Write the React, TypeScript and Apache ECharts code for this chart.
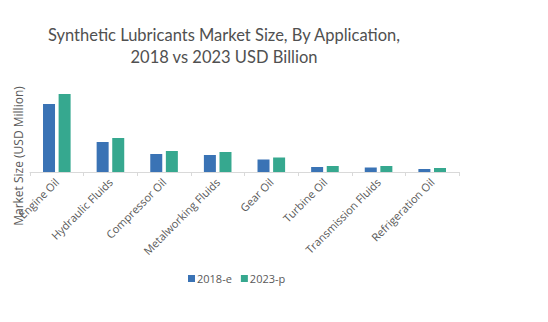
import React, { useEffect, useRef } from "react";
import * as echarts from "echarts";

const categories = [
  "Engine Oil",
  "Hydraulic Fluids",
  "Compressor Oil",
  "Metalworking Fluids",
  "Gear Oil",
  "Turbine Oil",
  "Transmission Fluids",
  "Refrigeration Oil",
];
const series2018 = [68, 30, 18, 17, 12.5, 5, 4.5, 3];
const series2023 = [78, 34, 21, 20, 14.5, 6, 6, 4];
const seriesNames = ["2018-e", "2023-p"];
const titleText = "Synthetic Lubricants Market Size, By Application,\n2018 vs 2023 USD Billion";
const yAxisName = "Market Size (USD Million)";

export default function App() {
  const ref = useRef<HTMLDivElement>(null);
  useEffect(() => {
    if (!ref.current) return;
    const chart = echarts.init(ref.current, null, { renderer: "svg" });
    chart.setOption({
      animation: false,
      backgroundColor: "#ffffff",
      legend: {
        data: seriesNames,
        top: 260,
        left: 175,
        itemWidth: 7,
        itemHeight: 7,
        itemGap: 9,
        icon: "rect",
        textStyle: { fontFamily: "Open Sans", fontSize: 11, color: "#595959", padding: [0, 0, 0, -3] },
      },
      graphic: [
        {
          type: "text",
          x: 216,
          y: 16,
          style: {
            text: titleText,
            fontFamily: "Lato",
            fontSize: 16.5,
            lineHeight: 22,
            fill: "#505050",
            align: "center",
            verticalAlign: "top",
          },
        },
        {
          type: "text",
          x: 4,
          y: 148,
          rotation: Math.PI / 2,
          style: {
            text: yAxisName,
            fontFamily: "Open Sans",
            fontSize: 12,
            fill: "#595959",
            align: "center",
            verticalAlign: "top",
          },
        },
      ],
      grid: { left: 22, right: 81, top: 72, bottom: 142, containLabel: false },
      xAxis: {
        type: "category",
        data: categories,
        axisLine: { lineStyle: { color: "#d9d9d9" } },
        axisTick: { show: true, length: 4, lineStyle: { color: "#d9d9d9" } },
        axisLabel: {
          rotate: 45,
          interval: 0,
          fontFamily: "Open Sans",
          fontSize: 11,
          color: "#595959",
          margin: 8,
        },
      },
      yAxis: {
        type: "value",
        min: 0,
        max: 92,
        show: false,
        splitLine: { show: false },
      },
      series: [
        {
          name: seriesNames[0],
          type: "bar",
          data: series2018,
          barWidth: 12,
          barGap: "30%",
          itemStyle: { color: "#3a73b5" },
        },
        {
          name: seriesNames[1],
          type: "bar",
          data: series2023,
          barWidth: 12,
          itemStyle: { color: "#36a88f" },
        },
      ],
    });
    return () => chart.dispose();
  }, []);
  return <div ref={ref} style={{ width: 532, height: 306 }} />;
}
